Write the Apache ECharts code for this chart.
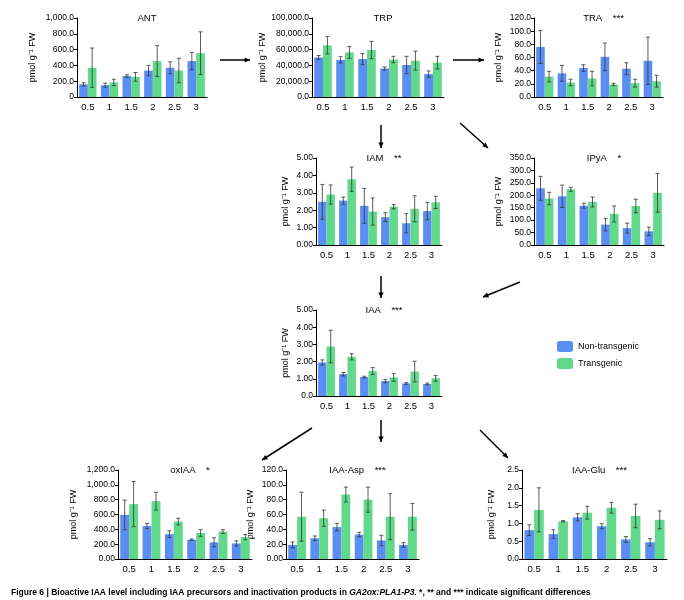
<!DOCTYPE html>
<html>
<head>
<meta charset="utf-8">
<script src="https://cdn.jsdelivr.net/npm/echarts@6/dist/echarts.min.js"></script>
<style>
  body { margin: 0; background: #fff; }
  #chart { width: 684px; height: 600px; }
</style>
</head>
<body>
<div id="chart"></div>
<script>
// categories (x axis)
var days = ['0.5', '1', '1.5', '2', '2.5', '3'];

// panel values: non-transgenic / transgenic, with error bars
var antNT = [160, 150, 265, 335, 370, 455];
var antNTErr = [20, 25, 15, 65, 75, 110];
var antT = [370, 185, 255, 455, 335, 555];
var antTErr = [250, 40, 55, 195, 155, 270];

var trpNT = [50000, 47000, 48000, 36000, 40500, 29000];
var trpNTErr = [2500, 4000, 7000, 2000, 11000, 4000];
var trpT = [65500, 56500, 59500, 47500, 46000, 43500];
var trpTErr = [11000, 7500, 11000, 4000, 12000, 8000];

var traNT = [76, 36, 44, 61, 43, 55];
var traNTErr = [25, 12, 5, 21, 9, 36];
var traT = [31, 22, 28, 19, 21, 24];
var traTErr = [8, 5, 11, 2, 6, 9];

var iamNT = [2.48, 2.55, 2.25, 1.6, 1.25, 1.95];
var iamNTErr = [1.0, 0.2, 1.0, 0.25, 0.55, 0.5];
var iamT = [2.9, 3.78, 1.92, 2.2, 2.08, 2.45];
var iamTErr = [0.55, 0.7, 0.78, 0.12, 0.75, 0.35];

var ipyaNT = [228, 196, 158, 82, 68, 55];
var ipyaNTErr = [48, 45, 10, 25, 20, 17];
var ipyaT = [187, 224, 173, 125, 157, 210];
var ipyaTErr = [25, 8, 20, 32, 27, 78];

var iaaNT = [1.95, 1.27, 1.1, 0.87, 0.73, 0.7];
var iaaNTErr = [0.15, 0.1, 0.05, 0.1, 0.05, 0.05];
var iaaT = [2.88, 2.28, 1.45, 1.08, 1.42, 1.03];
var iaaTErr = [0.95, 0.18, 0.2, 0.22, 0.6, 0.17];

var oxNT = [595, 445, 335, 260, 225, 210];
var oxNTErr = [200, 35, 45, 10, 60, 35];
var oxT = [740, 780, 505, 350, 370, 295];
var oxTErr = [305, 120, 45, 45, 25, 35];

var aspNT = [19, 28, 43, 33, 25, 19];
var aspNTErr = [4, 3, 5, 3, 7, 3];
var aspT = [57, 55, 87, 80, 57, 57];
var aspTErr = [33, 11, 10, 17, 31, 18];

var gluNT = [0.81, 0.70, 1.17, 0.92, 0.55, 0.47];
var gluNTErr = [0.15, 0.12, 0.1, 0.07, 0.08, 0.1];
var gluT = [1.38, 1.06, 1.30, 1.44, 1.21, 1.10];
var gluTErr = [0.62, 0.02, 0.18, 0.15, 0.33, 0.25];

var BLUE = '#5b8ef2';
var GREEN = '#61d98b';
var FONT = 'Liberation Sans';

function fmt(dec, zeroLabel) {
    return function(v) {
        if (v === 0) return zeroLabel;
        return v.toLocaleString('en-US', {minimumFractionDigits: dec, maximumFractionDigits: dec});
    };
}

// panels: title, position, axis, data
var panels = [
    {t: 'ANT', s: '', l: 77, tp: 18, w: 130, h: 79, max: 1000, iv: 200, f: fmt(1, '0'), d: [antNT, antNTErr, antT, antTErr]},
    {t: 'TRP', s: '', l: 312, tp: 18, w: 132, h: 79, max: 100000, iv: 20000, f: fmt(1, '0.0'), d: [trpNT, trpNTErr, trpT, trpTErr]},
    {t: 'TRA', s: '***', l: 534, tp: 18, w: 129, h: 79, max: 120, iv: 20, f: fmt(1, '0.0'), d: [traNT, traNTErr, traT, traTErr]},
    {t: 'IAM', s: '**', l: 316, tp: 158, w: 126, h: 87, max: 5, iv: 1, f: fmt(2, '0.00'), d: [iamNT, iamNTErr, iamT, iamTErr]},
    {t: 'IPyA', s: '*', l: 534, tp: 158, w: 130, h: 87, max: 350, iv: 50, f: fmt(1, '0.0'), d: [ipyaNT, ipyaNTErr, ipyaT, ipyaTErr]},
    {t: 'IAA', s: '***', l: 316, tp: 310, w: 126, h: 86, max: 5, iv: 1, f: fmt(2, '0.0'), d: [iaaNT, iaaNTErr, iaaT, iaaTErr]},
    {t: 'oxIAA', s: '*', l: 118, tp: 470, w: 134, h: 89, max: 1200, iv: 200, f: fmt(1, '0.00'), d: [oxNT, oxNTErr, oxT, oxTErr]},
    {t: 'IAA-Asp', s: '***', l: 286, tp: 470, w: 133, h: 89, max: 120, iv: 20, f: fmt(1, '0.00'), d: [aspNT, aspNTErr, aspT, aspTErr]},
    {t: 'IAA-Glu', s: '***', l: 522, tp: 470, w: 145, h: 89, max: 2.5, iv: 0.5, f: fmt(1, '0.0'), d: [gluNT, gluNTErr, gluT, gluTErr]}
];

function errorSeries(i, vals, errs, side) {
    return {
        type: 'custom', xAxisIndex: i, yAxisIndex: i, z: 5, silent: true,
        data: vals.map(function(v, k) { return [k, v, errs[k]]; }),
        renderItem: function(params, api) {
            var band = api.size([1, 0])[0];
            var c = api.coord([api.value(0), api.value(1)]);
            var x = c[0] + side * band * 0.2;
            var top = api.coord([api.value(0), api.value(1) + api.value(2)])[1];
            var bot = api.coord([api.value(0), Math.max(0, api.value(1) - api.value(2))])[1];
            var st = {stroke: '#333', lineWidth: 0.8};
            return {type: 'group', children: [
                {type: 'line', shape: {x1: x, y1: top, x2: x, y2: bot}, style: st},
                {type: 'line', shape: {x1: x - 2, y1: top, x2: x + 2, y2: top}, style: st},
                {type: 'line', shape: {x1: x - 2, y1: bot, x2: x + 2, y2: bot}, style: st}
            ]};
        }
    };
}

var grids = [], xAxes = [], yAxes = [], series = [], titles = [];
panels.forEach(function(p, i) {
    grids.push({left: p.l, top: p.tp, width: p.w, height: p.h});
    xAxes.push({
        type: 'category', gridIndex: i, data: days,
        axisLine: {lineStyle: {color: '#000'}},
        axisTick: {lineStyle: {color: '#000'}, length: 4},
        axisLabel: {color: '#000', fontSize: 9.5, fontFamily: FONT, margin: 5}
    });
    yAxes.push({
        type: 'value', gridIndex: i, min: 0, max: p.max, interval: p.iv,
        name: 'pmol g⁻¹ FW', nameLocation: 'middle', nameGap: p.max >= 1000 ? 40 : (p.max >= 100 ? 31 : 26),
        nameTextStyle: {color: '#000', fontSize: 9, fontFamily: FONT},
        splitLine: {show: false},
        axisLine: {show: true, lineStyle: {color: '#000'}},
        axisTick: {show: true, length: 3, lineStyle: {color: '#000'}},
        axisLabel: {color: '#000', fontSize: 8.5, fontFamily: FONT, margin: 3, formatter: p.f}
    });
    titles.push({
        text: p.t + (p.s ? '    ' + p.s : ''),
        left: p.l + p.w / 2, top: p.tp - 10, textAlign: 'center',
        textStyle: {fontSize: 9.5, fontWeight: 'normal', color: '#000', fontFamily: FONT}
    });
    series.push({name: 'Non-transgenic', type: 'bar', xAxisIndex: i, yAxisIndex: i,
        data: p.d[0], barGap: '0%', barCategoryGap: '20%', itemStyle: {color: BLUE}});
    series.push({name: 'Transgenic', type: 'bar', xAxisIndex: i, yAxisIndex: i,
        data: p.d[2], itemStyle: {color: GREEN}});
    series.push(errorSeries(i, p.d[0], p.d[1], -1));
    series.push(errorSeries(i, p.d[2], p.d[3], 1));
});

titles.push({
    text: '{b|Figure 6 | Bioactive IAA level including IAA precursors and inactivation products in }{bi|GA2ox:PLA1-P3.}{n| *, ** and *** indicate significant differences}',
    left: 6, top: 583,
    textStyle: {rich: {
        b: {fontSize: 8.5, fontWeight: 'bold', color: '#000', fontFamily: FONT},
        bi: {fontSize: 8.5, fontWeight: 'bold', fontStyle: 'italic', color: '#000', fontFamily: FONT},
        n: {fontSize: 8.5, color: '#000', fontFamily: FONT}
    }}
});

function arrow(x1, y1, x2, y2) {
    var a = Math.atan2(y2 - y1, x2 - x1), L = 6;
    return [
        {type: 'line', shape: {x1: x1, y1: y1, x2: x2, y2: y2}, style: {stroke: '#000', lineWidth: 1.5}},
        {type: 'polygon', shape: {points: [
            [x2, y2],
            [x2 - L * Math.cos(a - 0.45), y2 - L * Math.sin(a - 0.45)],
            [x2 - L * Math.cos(a + 0.45), y2 - L * Math.sin(a + 0.45)]
        ]}, style: {fill: '#000'}}
    ];
}

var graphics = [].concat(
    arrow(220, 60, 250, 60),
    arrow(453, 60, 484, 60),
    arrow(381, 125, 381, 148),
    arrow(460, 123, 488, 148),
    arrow(381, 276, 381, 298),
    arrow(520, 282, 483, 297),
    arrow(381, 420, 381, 442),
    arrow(312, 428, 262, 460),
    arrow(480, 430, 508, 458)
);

echarts.init(document.getElementById('chart')).setOption({
    animation: false,
    title: titles,
    legend: {
        data: ['Non-transgenic', 'Transgenic'], orient: 'vertical',
        left: 552, top: 336, itemWidth: 16, itemHeight: 11, itemGap: 6,
        textStyle: {fontSize: 9, color: '#000', fontFamily: FONT}
    },
    grid: grids,
    xAxis: xAxes,
    yAxis: yAxes,
    series: series,
    graphic: graphics
});
</script>
</body>
</html>
